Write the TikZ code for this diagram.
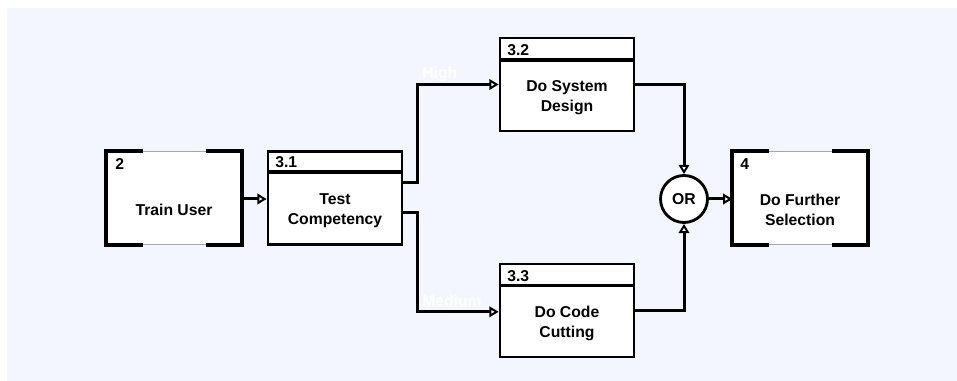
\documentclass[tikz,border=0pt]{standalone}
\usepackage{fontspec}
\setmainfont{Liberation Sans}
\usetikzlibrary{arrows.meta}
\definecolor{bg}{HTML}{F3F6FE}
\begin{document}
\begin{tikzpicture}[x=0.75pt,y=-0.75pt,
  font=\fontsize{11.8}{15}\selectfont\bfseries,
  box/.style={draw=black, line width=2.1pt, fill=white, minimum width=100.5pt, minimum height=69.75pt, inner sep=0pt},
  refbox/.style={draw=gray!70, line width=1pt, fill=white, minimum width=100.5pt, minimum height=69.75pt, inner sep=0pt},
  thick edge/.style={line width=2.8pt, line cap=rect},
  hdr/.style={line width=2.4pt},
  conn/.style={line width=2.25pt, -{Triangle[fill=white,length=7pt,width=8pt,line width=1.5pt]}},
  num/.style={anchor=west, inner sep=0pt},
  txt/.style={align=center, inner sep=0pt},
  lbl/.style={anchor=west, inner sep=0pt, text=white}]
\useasboundingbox (0,0) rectangle (957,381);
\fill[bg] (7,8) rectangle (957,381);

% boxes
\node[refbox] (b2) at (174,198) {};
\node[box] (b31) at (335,198) {};
\node[box] (b32) at (567,84.5) {};
\node[box] (b33) at (567,310.5) {};
\node[refbox] (b4) at (800,198) {};
\node[draw, circle, line width=2.1pt, fill=white, minimum size=35.25pt, inner sep=0pt] (or) at (684,199) {OR};

% thick edges of reference boxes
\foreach \b in {b2,b4}{
  \draw[thick edge] (\b.north west) -- (\b.south west);
  \draw[thick edge] (\b.north east) -- (\b.south east);
  \draw[thick edge] (\b.north west) -- ([xshift=26pt]\b.north west);
  \draw[thick edge] (\b.north east) -- ([xshift=-25pt]\b.north east);
  \draw[thick edge] (\b.south west) -- ([xshift=26pt]\b.south west);
  \draw[thick edge] (\b.south east) -- ([xshift=-25pt]\b.south east);
}

% header separators
\draw[hdr] ([yshift=-16.5pt]b31.north west) -- ([yshift=-16.5pt]b31.north east);
\draw[hdr] ([yshift=-17.5pt]b32.north west) -- ([yshift=-17.5pt]b32.north east);
\draw[hdr] ([yshift=-17pt]b33.north west) -- ([yshift=-17pt]b33.north east);

% numbers
\node[num] (n2) at (115,164) {2};
\node[num] (n31) at (275,162) {3.1};
\node[num] (n32) at (507,50) {3.2};
\node[num] (n33) at (507,276) {3.3};
\node[num] (n4) at (740,164) {4};

% texts
\node[txt] (t2) at (174,210) {Train User};
\node[txt] (t31) at (335,211) {Test\\Competency};
\node[txt] (t32) at (567,98) {Do System\\Design};
\node[txt] (t33) at (567,323) {Do Code\\Cutting};
\node[txt] (t4) at (800,210) {Do Further\\Selection};

% labels
\node[lbl] (lh) at (422,74) {High};
\node[lbl] (lm) at (422,301) {Medium};

% connectors
\draw[conn] (b2.east |- 0,199) -- (b31.west |- 0,199);
\draw[conn] ([yshift=11.25pt]b31.east) -- ++(14,0) |- (b32.west);
\draw[conn] ([yshift=-11.25pt]b31.east) -- ++(14,0) |- ([yshift=-1pt]b33.west);
\draw[conn] (b32.east) -| (or.north);
\draw[conn] (b33.east) -| (or.south);
\draw[conn] (or.east) -- (b4.west |- or.east);
\end{tikzpicture}
\end{document}
